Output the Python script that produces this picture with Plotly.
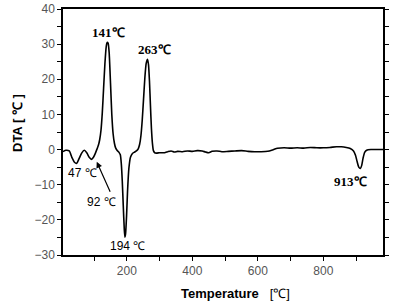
import plotly.graph_objects as go

temperature = [5, 14, 24, 32, 40, 47, 54, 62, 70, 78, 85, 92, 98, 104, 109, 113,
               117, 121, 125, 129, 133, 137, 139, 141, 143, 146, 150, 154, 158, 162, 166, 171,
               176, 180, 183, 186, 189, 192, 194, 196, 199, 202, 206, 211, 217, 224, 230,
               235, 239, 243, 247, 251, 255, 259, 263, 266, 269, 272, 275, 278, 281, 285,
               290, 300, 315, 325, 335, 345, 355, 370, 385, 400, 415, 430, 440, 450, 460,
               475, 490, 510, 530, 550, 570, 590, 610, 630, 645, 660, 680, 700, 720, 740,
               760, 780, 800, 820, 840, 855, 870, 882, 892, 898, 903, 908, 913, 917, 921,
               926, 932, 945, 960, 975, 985]
dta = [-0.6, -0.2, -0.4, -2.2, -3.6, -3.9, -2.6, -1.0, -0.2, -1.0, -2.2, -2.8, -2.2, -1.0, 0.2, 1.2,
       2.8, 5.5, 10.5, 17.5, 24.5, 29.3, 30.3, 30.5, 30.2, 27.5, 19.0, 10.0, 4.5, 1.8, 0.4, -0.3,
       -0.8, -1.5, -4.0, -9.0, -16.0, -22.5, -24.9, -24.0, -19.0, -12.0, -5.5, -2.2, -1.1, -0.7, -0.3,
       0.3, 1.5, 4.0, 8.5, 14.5, 20.5, 24.5, 25.7, 24.2, 19.5, 12.5, 6.0, 1.8, -0.3, -0.9,
       -1.0, -0.9, -0.9, -0.6, -0.4, -0.7, -0.5, -0.6, -0.4, -0.5, -0.3, -0.4, -0.7, -0.9, -0.5,
       -0.4, -0.6, -0.5, -0.4, -0.3, -0.5, -0.6, -0.6, -0.5, -0.1, 0.4, 0.5, 0.4, 0.5, 0.4,
       0.6, 0.5, 0.5, 0.6, 0.8, 0.8, 0.6, 0.3, -0.4, -1.6, -3.4, -5.0, -5.4, -4.5, -2.5,
       -0.8, -0.2, 0.0, 0.0, 0.0, 0.0]

x_ticks = [200, 400, 600, 800]
y_ticks = [-30, -20, -10, 0, 10, 20, 30, 40]

# peak labels: (text, x, y, font family, size)
peak_labels = [
    ("<b>141℃</b>", 143, 33.3, "Liberation Serif", 13),
    ("<b>263℃</b>", 283, 28.4, "Liberation Serif", 13),
    ("47 ℃", 63, -6.6, "Liberation Sans", 12),
    ("92 ℃", 124, -14.9, "Liberation Sans", 12),
    ("194 ℃", 203, -27.4, "Liberation Sans", 12),
    ("<b>913℃</b>", 884, -9.2, "Liberation Serif", 13),
]

fig = go.Figure()
fig.add_trace(go.Scatter(x=temperature, y=dta, mode="lines",
                         line=dict(color="black", width=1.6, shape="spline", smoothing=0.6),
                         showlegend=False, hoverinfo="skip"))

annotations = []
for text, x, y, fam, size in peak_labels:
    annotations.append(dict(x=x, y=y, xref="x", yref="y", text=text, showarrow=False,
                            font=dict(family=fam, size=size, color="black")))
# arrow to the 92 degC dip
annotations.append(dict(x=108, y=-3.5, ax=151, ay=-12.4, xref="x", yref="y",
                        axref="x", ayref="y", text="", showarrow=True,
                        arrowhead=2, arrowsize=1, arrowwidth=1.2, arrowcolor="black"))
# axis titles
annotations.append(dict(x=0.5, y=0, xref="paper", yref="paper", xanchor="center",
                        yanchor="middle", xshift=12, yshift=-38,
                        text="<b>Temperature</b>   [℃]", showarrow=False,
                        font=dict(family="Liberation Sans", size=13, color="black")))
annotations.append(dict(x=0, y=0.5, xref="paper", yref="paper", xanchor="center",
                        yanchor="middle", xshift=-46, yshift=9,
                        text="<b>DTA [ ℃ ]</b>", textangle=-90, showarrow=False,
                        font=dict(family="Liberation Sans", size=13, color="black")))

fig.update_layout(
    width=396, height=304,
    margin=dict(l=63, r=13, t=9, b=49, autoexpand=False),
    paper_bgcolor="white", plot_bgcolor="white",
    annotations=annotations,
    font=dict(family="Liberation Sans", size=12, color="#444"),
)
fig.update_xaxes(range=[5, 982], tickvals=x_ticks, ticks="outside", ticklen=4,
                 tickwidth=1, tickcolor="black", showline=True, linecolor="black",
                 linewidth=1.5, mirror=True, showgrid=False, zeroline=False, automargin=False,
                 minor=dict(dtick=100, tick0=0, ticks="outside", ticklen=4, tickcolor="black"),
                 tickfont=dict(size=12, color="#555"))
fig.update_yaxes(range=[-30, 40], tickvals=y_ticks, ticks="outside", ticklen=4,
                 tickwidth=1, tickcolor="black", showline=True, linecolor="black",
                 linewidth=1.5, mirror="ticks", showgrid=False, zeroline=False, automargin=False,
                 minor=dict(dtick=5, tick0=0, ticks="outside", ticklen=4, tickcolor="black"),
                 tickfont=dict(size=12, color="#555"))

fig.write_html("out.html", config={"displayModeBar": False},
               post_script="document.body.style.margin='0';")
